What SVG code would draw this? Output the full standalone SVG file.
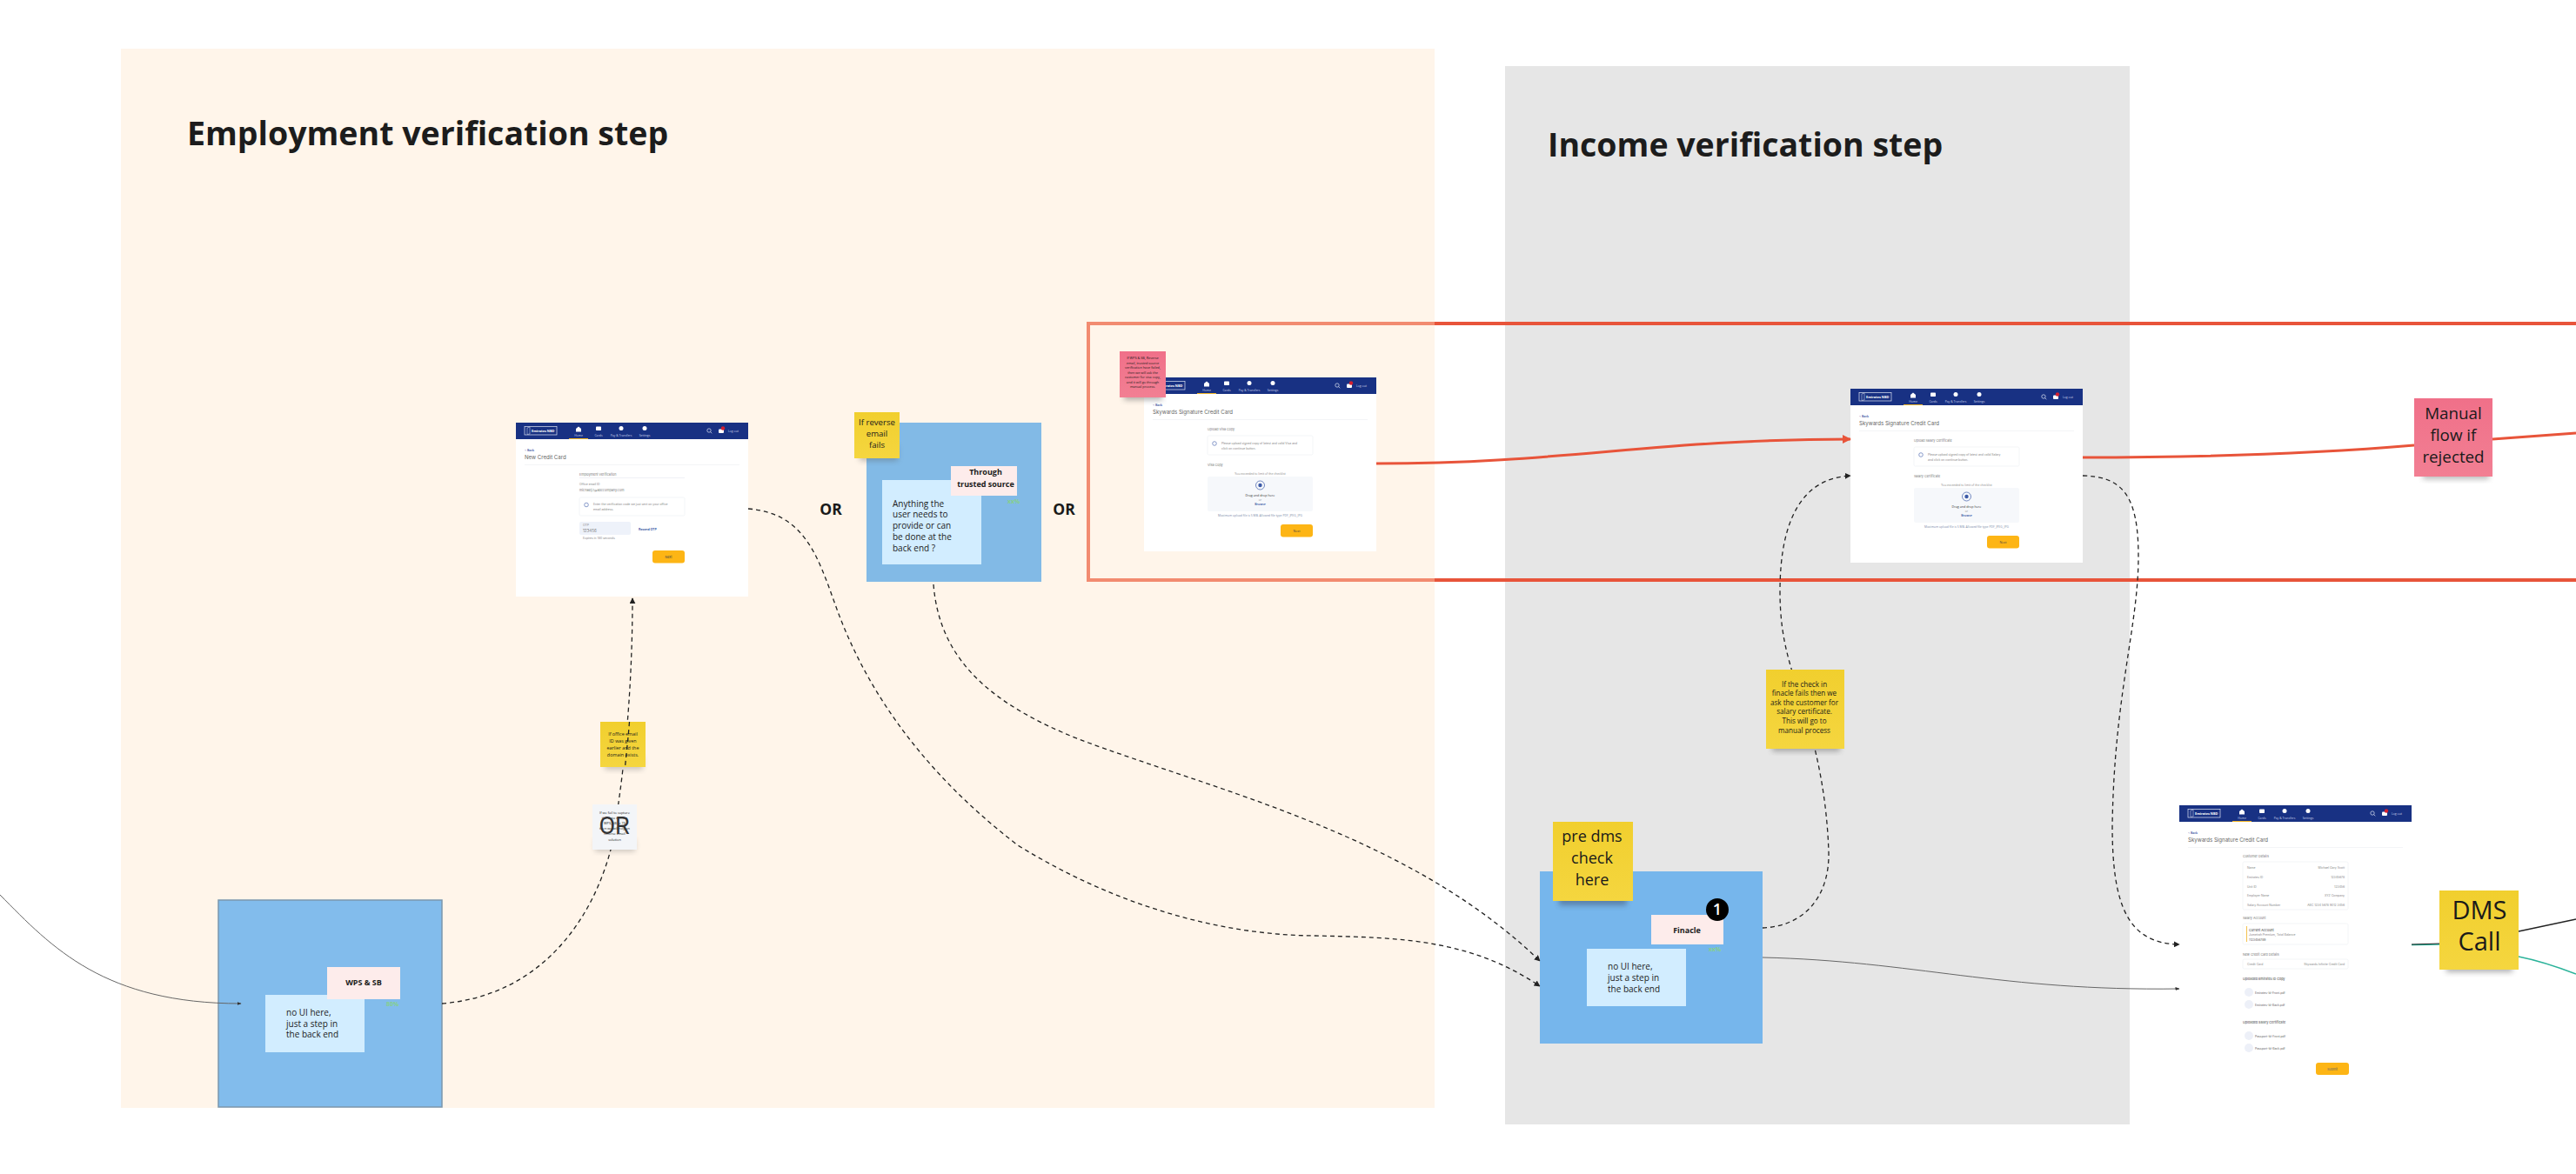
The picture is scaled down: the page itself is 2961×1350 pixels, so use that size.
<svg xmlns="http://www.w3.org/2000/svg" width="2961" height="1350" viewBox="0 0 2961 1350">
<style>
text{font-family:"Open Sans","Noto Sans","Liberation Sans",sans-serif;fill:#1a1a1a}
.ui text{font-family:Inter,"Liberation Sans",sans-serif}
.title{font-size:37.5px;font-weight:700;fill:#1c1c1c}
.or{font-size:17.5px;font-weight:700;text-anchor:middle}
.note{font-size:10px}
.tag{font-size:9px;font-weight:700;text-anchor:middle}
.pct{font-size:7px;font-weight:700;fill:#86d08a}
.mid{text-anchor:middle}
.sticky{fill:url(#stickyY)}
.pink{fill:url(#stickyP)}
.ul{fill:#fff}
.t3{font-size:3.4px;fill:#888}
.t3b{font-size:3.4px;fill:#666}
.t4{font-size:3.7px;fill:#777}
.nav{font-size:3.4px;fill:#c9d2ea;text-anchor:middle}
.link{font-size:3.5px;fill:#2c4da0;font-weight:600}
.h1{font-size:6.1px;fill:#666}
.btn{fill:#fdb515}
.box{fill:#fff;stroke:#eef0f4;stroke-width:.7}
.dash{fill:none;stroke:#222;stroke-width:1.3;stroke-dasharray:5 4}
.thin{fill:none;stroke:#666;stroke-width:1}
.red{fill:none;stroke:#e8543a;stroke-width:3}
</style>
<defs>
<linearGradient id="stickyY" x1="0" y1="0" x2="0" y2="1"><stop offset="0" stop-color="#f1cf2e"/><stop offset="1" stop-color="#f5d63f"/></linearGradient>
<linearGradient id="stickyP" x1="0" y1="0" x2="0" y2="1"><stop offset="0" stop-color="#f07089"/><stop offset="1" stop-color="#f27f93"/></linearGradient>
<filter id="drop" x="-20%" y="-20%" width="140%" height="150%"><feGaussianBlur stdDeviation="3"/></filter>
<marker id="arrDark" viewBox="0 0 10 10" refX="9" refY="5" markerWidth="7" markerHeight="7" orient="auto" markerUnits="userSpaceOnUse"><path d="M0 0L10 5L0 10z" fill="#222"/></marker>
<marker id="arrThin" viewBox="0 0 10 10" refX="9" refY="5" markerWidth="5" markerHeight="5" orient="auto" markerUnits="userSpaceOnUse"><path d="M0 1L10 5L0 9z" fill="#333"/></marker>
<marker id="arrRed" viewBox="0 0 10 10" refX="9" refY="5" markerWidth="10" markerHeight="10" orient="auto" markerUnits="userSpaceOnUse"><path d="M0 0L10 5L0 10z" fill="#e8543a"/></marker>
<g id="appbar">
<rect width="267" height="19" fill="#183183"/>
<rect x="10" y="4.500" width="37" height="9.500" fill="none" stroke="#dfe5f3" stroke-width=".7"/>
<path d="M13 6l3-1v8l-3 .5z" fill="none" stroke="#dfe5f3" stroke-width=".5"/>
<text x="18" y="11" style="font-size:3.800px;font-weight:700;fill:#fff">Emirates NBD</text>
<path d="M69 7l3-2.500 3 2.500v3.500h-6z" fill="#fff"/>
<rect x="92" y="4.500" width="6" height="4.500" rx=".8" fill="#fff"/>
<circle cx="121" cy="6.500" r="2.500" fill="#fff"/>
<circle cx="148" cy="6.500" r="2.500" fill="#fff"/>
<text class="nav" x="72" y="15.500">Home</text>
<text class="nav" x="95" y="15.500">Cards</text>
<text class="nav" x="121" y="15.500">Pay &amp; Transfers</text>
<text class="nav" x="148" y="15.500">Settings</text>
<rect x="61" y="18" width="22" height="1" fill="#f0b323"/>
<path d="M223.500 10.500l1.800 1.800" stroke="#dfe5f3" stroke-width=".7"/>
<circle cx="222" cy="9" r="2.200" fill="none" stroke="#dfe5f3" stroke-width=".7"/>
<rect x="233" y="7.500" width="6" height="4.500" rx="1" fill="#fff"/>
<circle cx="238" cy="6.500" r="2.200" fill="#d22030"/>
<text class="nav" x="250" y="11">Log out</text>
<text class="link" x="10" y="32.500">&lt; Back</text>
<rect x="10" y="48" width="247" height=".6" fill="#eceef2"/>
</g>
<g id="uploadForm">
<rect class="box" x="73" y="67" width="121" height="22" rx="1.500"/>
<circle cx="81" cy="76" r="2.300" fill="none" stroke="#3c5aa8" stroke-width=".6"/>
<text class="t3 mid" x="133.500" y="112">You exceeded to limit of the checklist</text>
<rect x="73" y="114" width="121" height="40" rx="2" fill="#f6f8fb"/>
<circle cx="133.500" cy="124" r="5" fill="none" stroke="#3c5aa8" stroke-width=".7"/>
<circle cx="133.500" cy="124" r="2.200" fill="#3c5aa8"/>
<text class="t4 mid" x="133.500" y="137" style="fill:#333">Drag and drop here</text>
<text class="t3 mid" x="133.500" y="141.500">or</text>
<text class="link mid" x="133.500" y="146.500">Browse</text>
<text class="t3 mid" x="133.500" y="159.500" style="fill:#7a8aa8">Maximum upload file is 5 MB. Allowed file type PDF, JPEG, JPG</text>
<rect class="btn" x="157" y="169" width="37" height="14.500" rx="3"/>
<text class="t4 mid" x="175.500" y="177.500" style="fill:#444">Next</text>
</g>
</defs>

<rect width="2961" height="1350" fill="#fff"/>
<rect id="panel-employment" x="139" y="56" width="1510" height="1218" fill="#fff5ea"/>
<rect id="panel-income" x="1730" y="76" width="718" height="1217" fill="#e6e6e6"/>
<text class="title" x="215" y="167">Employment verification step</text>
<text class="title" x="1779" y="180">Income verification step</text>

<g id="manual-route" fill="none" stroke-width="4">
<path d="M1649 372H1251V667H1649" stroke="#f28b70"/>
<path d="M1649 372H2961M1649 667H2961" stroke="#e8543a"/>
</g>

<g id="screen-otp" class="ui" transform="translate(593 486)">
<rect class="ul" width="267" height="200"/>
<use href="#appbar"/>
<text class="h1" x="10" y="42">New Credit Card</text>
<text class="t4" x="73" y="61">Employment Verification</text>
<rect x="73" y="63" width="121" height=".6" fill="#e6e8ee"/>
<text class="t3" x="73" y="72">Office email ID</text>
<text class="t4" x="73" y="78.500">michaelj.r@abccompany.com</text>
<rect class="box" x="73" y="86" width="121" height="21" rx="1.500"/>
<circle cx="81" cy="94.500" r="2.300" fill="none" stroke="#3c5aa8" stroke-width=".6"/>
<text class="t3" x="89" y="95">Enter the verification code we just sent on your office</text>
<text class="t3" x="89" y="100.500">email address.</text>
<rect x="73" y="114" width="59" height="15" rx="2" fill="#eef2fa"/>
<text class="t3" x="77" y="118.500">OTP</text>
<text class="t4" x="77" y="125.500" style="font-size:4.500px">123456</text>
<text class="link" x="141" y="123.500">Resend OTP</text>
<text class="t3" x="77" y="133.500">Expires in 180 seconds</text>
<rect class="btn" x="157" y="147" width="37" height="14.500" rx="3"/>
<text class="t4 mid" x="175.500" y="155.500" style="fill:#444">Next</text>
</g>

<g id="wps-step">
<rect x="251" y="1035" width="257" height="238" fill="#82bcec" stroke="#7b97ad" stroke-width="1.500"/>
<rect x="305" y="1144" width="114" height="66" fill="#d2edff"/>
<rect x="376" y="1112" width="84" height="37" fill="#fdeceb"/>
<text class="tag" x="418" y="1133">WPS &amp; SB</text>
<text class="pct" x="444" y="1157">80%</text>
<text class="note" x="329" y="1168">no UI here,</text>
<text class="note" x="329" y="1181">just a step in</text>
<text class="note" x="329" y="1193">the back end</text>
</g>

<g id="trusted-step">
<rect x="996" y="486" width="201" height="183" fill="#82bae6"/>
<rect x="1014" y="552" width="114" height="97" fill="#d2edff"/>
<rect x="1093" y="536" width="76" height="34" fill="#fdeceb"/>
<text class="tag" x="1133" y="546">Through</text>
<text class="tag" x="1133" y="560">trusted source</text>
<text class="pct" x="1158" y="579">xx%</text>
<text class="note" x="1026" y="583">Anything the</text>
<text class="note" x="1026" y="595">user needs to</text>
<text class="note" x="1026" y="608">provide or can</text>
<text class="note" x="1026" y="621">be done at the</text>
<text class="note" x="1026" y="634">back end ?</text>
</g>
<g id="sticky-reverse">
<rect x="988" y="512" width="44" height="18" fill="#555" opacity=".35" filter="url(#drop)"/>
<rect class="sticky" x="982" y="474" width="52" height="53"/>
<g font-size="9.600" text-anchor="middle">
<text x="1008" y="489">If reverse</text>
<text x="1008" y="502">email</text>
<text x="1008" y="515">fails</text>
</g>
</g>
<text class="or" x="955" y="592">OR</text>
<text class="or" x="1223" y="592">OR</text>

<g id="screen-visa" class="ui" transform="translate(1315 434)">
<rect class="ul" width="267" height="200"/>
<use href="#appbar"/>
<use href="#uploadForm"/>
<text class="h1" x="10" y="42">Skywards Signature Credit Card</text>
<text class="t4" x="73" y="61">Upload Visa Copy</text>
<text class="t3" x="89" y="77">Please upload signed copy of latest and valid Visa and</text>
<text class="t3" x="89" y="82.500">click on continue button.</text>
<text class="t4" x="73" y="102">Visa Copy</text>
</g>
<g id="sticky-visa">
<rect x="1292" y="442" width="44" height="18" fill="#555" opacity=".45" filter="url(#drop)"/>
<rect class="pink" x="1287" y="404" width="53" height="53"/>
<g font-size="3.800" text-anchor="middle">
<text x="1313.500" y="413">If WPS &amp; SB, Reverse</text>
<text x="1313.500" y="418.500">email, trusted source</text>
<text x="1313.500" y="424">verification have failed,</text>
<text x="1313.500" y="429.500">then we will ask the</text>
<text x="1313.500" y="435">customer for visa copy,</text>
<text x="1313.500" y="440.500">and it will go through</text>
<text x="1313.500" y="446">manual process.</text>
</g>
</g>

<g id="screen-salary" class="ui" transform="translate(2127 447)">
<rect class="ul" width="267" height="200"/>
<use href="#appbar"/>
<use href="#uploadForm"/>
<text class="h1" x="10" y="42">Skywards Signature Credit Card</text>
<text class="t4" x="73" y="61">Upload Salary Certificate</text>
<text class="t3" x="89" y="77">Please upload signed copy of latest and valid Salary</text>
<text class="t3" x="89" y="82.500">and click on continue button.</text>
<text class="t4" x="73" y="102">Salary Certificate</text>
</g>

<g id="screen-review" class="ui" transform="translate(2505 926)">
<rect class="ul" width="267" height="320"/>
<use href="#appbar"/>
<text class="h1" x="10" y="42">Skywards Signature Credit Card</text>
<text class="t4" x="73" y="60">Customer Details</text>
<rect class="box" x="73" y="65" width="121" height="55" rx="1.500"/>
<text class="t3" x="78" y="72.500">Name</text><text class="t3" x="190" y="72.500" text-anchor="end">Michael Gary Scott</text>
<text class="t3" x="78" y="83.500">Emirates ID</text><text class="t3" x="190" y="83.500" text-anchor="end">12345678</text>
<text class="t3" x="78" y="94.500">Unit ID</text><text class="t3" x="190" y="94.500" text-anchor="end">123456</text>
<text class="t3" x="78" y="105">Employer Name</text><text class="t3" x="190" y="105" text-anchor="end">XYZ Company</text>
<text class="t3" x="78" y="116">Salary Account Number</text><text class="t3" x="190" y="116" text-anchor="end">ABC 1234 5678 9012 3456</text>
<text class="t4" x="73" y="131">Salary Account</text>
<rect class="box" x="73" y="136" width="121" height="24" rx="1.500"/>
<rect x="77" y="139" width=".8" height="18" fill="#f0b323"/>
<text class="t4" x="80" y="144.500" style="fill:#333">Current Account</text>
<text class="t3" x="80" y="150">Jumeirah Premium, Total Balance</text>
<text class="t3" x="80" y="155.500" style="fill:#555">1123456789</text>
<text class="t4" x="73" y="173">New Credit Card Details</text>
<rect class="box" x="73" y="177" width="121" height="11" rx="1.500"/>
<text class="t3" x="78" y="184">Credit Card</text><text class="t3" x="190" y="184" text-anchor="end">Skywards Infinite Credit Card</text>
<text class="t4" x="73" y="201" style="font-weight:600">Uploaded Emirates ID Copy</text>
<circle cx="80" cy="215" r="5" fill="#edf0f8"/><text class="t3b" x="87" y="216.500">Emirates-Id-Front.pdf</text>
<circle cx="80" cy="229" r="5" fill="#edf0f8"/><text class="t3b" x="87" y="230.500">Emirates-Id-Back.pdf</text>
<text class="t4" x="73" y="251" style="font-weight:600">Uploaded Salary Certificate</text>
<circle cx="80" cy="265" r="5" fill="#edf0f8"/><text class="t3b" x="87" y="266.500">Passport-Id-Front.pdf</text>
<circle cx="80" cy="279" r="5" fill="#edf0f8"/><text class="t3b" x="87" y="280.500">Passport-Id-Back.pdf</text>
<rect class="btn" x="157" y="296" width="38" height="14" rx="3"/>
<text class="t4 mid" x="176" y="304.500" style="fill:#666">Submit</text>
</g>

<g id="finacle-step">
<rect x="1770" y="1002" width="256" height="198" fill="#76b6ec"/>
<rect x="1824" y="1091" width="114" height="66" fill="#d2edff"/>
<rect x="1898" y="1052" width="83" height="34" fill="#fdeceb"/>
<text class="tag" x="1939" y="1073">Finacle</text>
<circle cx="1974" cy="1046" r="13" fill="#000"/>
<text x="1974" y="1052" text-anchor="middle" font-size="18" font-weight="600" style="fill:#fff">1</text>
<text class="pct" x="1964" y="1094">xx%</text>
<text class="note" x="1848" y="1115">no UI here,</text>
<text class="note" x="1848" y="1128">just a step in</text>
<text class="note" x="1848" y="1141">the back end</text>
</g>
<g id="sticky-predms">
<rect x="1792" y="1017" width="78" height="24" fill="#334" opacity=".4" filter="url(#drop)"/>
<rect class="sticky" x="1785" y="945" width="92" height="91"/>
<g font-size="18" text-anchor="middle">
<text x="1830" y="968">pre dms</text>
<text x="1830" y="993">check</text>
<text x="1830" y="1018">here</text>
</g>
</g>

<g id="connectors">
<path class="thin" d="M0 1029C60 1090 120 1154 277 1154" marker-end="url(#arrThin)"/>
<path class="dash" d="M508 1154C620 1145 680 1060 702 977C716 905 727 800 727 688" marker-end="url(#arrDark)"/>
<path class="dash" d="M860 585C925 590 940 640 960 695C990 780 1050 880 1170 972C1280 1040 1400 1075 1510 1076C1610 1078 1690 1080 1770 1134" marker-end="url(#arrDark)"/>
<path class="dash" d="M1073 672C1080 760 1140 810 1240 850C1400 910 1620 960 1770 1105" marker-end="url(#arrDark)"/>
<path class="dash" d="M2026 1067C2075 1065 2103 1030 2102 980C2100 920 2090 870 2075 820C2060 770 2046 740 2046 680C2046 600 2070 550 2127 547" marker-end="url(#arrDark)"/>
<path class="dash" d="M2394 547C2440 548 2458 570 2458 640C2458 720 2430 800 2428 950C2428 1040 2445 1085 2505 1086" marker-end="url(#arrDark)"/>
<path class="thin" d="M2026 1101C2200 1105 2300 1140 2505 1137" marker-end="url(#arrThin)"/>
<path class="red" d="M1582 533C1800 533 1900 505 2127 505" marker-end="url(#arrRed)"/>
<path class="red" d="M2394 526C2550 526 2680 520 2775 512"/>
<path class="red" d="M2865 505L2961 498"/>
<path d="M2772 1086.500L2804 1086" fill="none" stroke="#2bb39a" stroke-width="1.500"/>
<path d="M2772 1086L2804 1085" fill="none" stroke="#222" stroke-width="1"/>
<path d="M2895 1071L2961 1057" fill="none" stroke="#222" stroke-width="1.500"/>
<path d="M2895 1100C2920 1105 2940 1112 2961 1120" fill="none" stroke="#2bb39a" stroke-width="1.500"/>
</g>

<g id="sticky-office">
<rect x="695" y="870" width="44" height="15" fill="#555" opacity=".3" filter="url(#drop)"/>
<rect class="sticky" x="690" y="830" width="52" height="52"/>
<g font-size="5.400" text-anchor="middle">
<text x="716" y="845.500">If office email</text>
<text x="716" y="853.500">ID was given</text>
<text x="716" y="861.500">earlier and the</text>
<text x="716" y="870">domain exists.</text>
</g>
<path class="dash" d="M723.500 830C722 850 720 866 718.500 882"/>
</g>
<g id="note-reverse">
<rect x="684" y="965" width="46" height="14" fill="#555" opacity=".3" filter="url(#drop)"/>
<rect x="681" y="925" width="51" height="52" fill="#f3f5f8"/>
<g font-size="3.900" text-anchor="middle" style="fill:#444">
<text x="706.500" y="936">If we fail to capture</text>
<text x="706.500" y="942">the data in from</text>
<text x="706.500" y="948">WPS, SB or TS</text>
<text x="706.500" y="954">then we will rely on</text>
<text x="706.500" y="960">reverse email</text>
<text x="706.500" y="967">solution</text>
</g>
<text x="706" y="959" text-anchor="middle" style="font-family:Roboto,'Liberation Sans',sans-serif;font-size:27px;fill:#333">OR</text>
</g>
<g id="sticky-finacle">
<rect x="2037" y="850" width="78" height="14" fill="#444" opacity=".4" filter="url(#drop)"/>
<rect class="sticky" x="2030" y="770" width="90" height="91"/>
<g font-size="8.100" text-anchor="middle">
<text x="2074" y="790">If the check in</text>
<text x="2074" y="800">finacle fails then we</text>
<text x="2074" y="811">ask the customer for</text>
<text x="2074" y="821">salary certificate.</text>
<text x="2074" y="832">This will go to</text>
<text x="2074" y="843">manual process</text>
</g>
</g>
<g id="sticky-manual">
<rect x="2785" y="535" width="76" height="16" fill="#555" opacity=".4" filter="url(#drop)"/>
<rect class="pink" x="2775" y="458" width="90" height="90"/>
<g font-size="18.800" text-anchor="middle">
<text x="2820" y="482">Manual</text>
<text x="2820" y="507">flow if</text>
<text x="2820" y="532">rejected</text>
</g>
</g>
<g id="sticky-dms">
<rect x="2812" y="1100" width="76" height="18" fill="#555" opacity=".45" filter="url(#drop)"/>
<rect class="sticky" x="2804" y="1024" width="91" height="91"/>
<g font-size="29" text-anchor="middle">
<text x="2850" y="1057">DMS</text>
<text x="2850" y="1093">Call</text>
</g>
</g>
</svg>
